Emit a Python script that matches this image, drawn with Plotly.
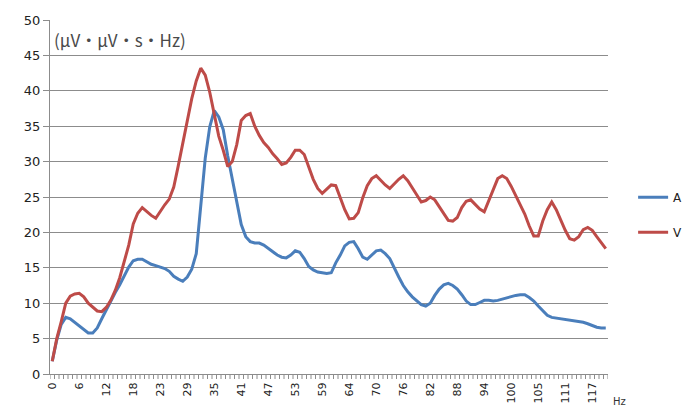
import plotly.graph_objects as go

# Spectral power per frequency bin (bin step = 1000/1024 Hz)
series_A = [1.8, 4.8, 7.0, 8.0, 7.8, 7.3, 6.8, 6.2, 5.8, 5.8,
            6.5, 7.8, 9.1, 10.4, 11.5, 12.6, 13.9, 15.1, 16.0, 16.2,
            16.2, 15.8, 15.5, 15.3, 15.1, 14.9, 14.5, 13.8, 13.4, 13.1,
            13.7, 14.8, 17.0, 23.5, 30.5, 34.9, 37.2, 36.3, 34.5, 30.8,
            27.5, 24.0, 21.1, 19.4, 18.7, 18.5, 18.5, 18.2, 17.7, 17.3,
            16.8, 16.5, 16.4, 16.8, 17.4, 17.2, 16.3, 15.2, 14.7, 14.4,
            14.3, 14.2, 14.3, 15.7, 16.8, 18.1, 18.6, 18.7, 17.7, 16.5,
            16.2, 16.8, 17.4, 17.5, 17.0, 16.3, 14.9, 13.7, 12.5, 11.6,
            10.9, 10.4, 9.8, 9.6, 10.0, 11.1, 12.0, 12.6, 12.8, 12.5,
            12.0, 11.2, 10.3, 9.8, 9.8, 10.1, 10.4, 10.4, 10.3, 10.4,
            10.6, 10.7, 10.9, 11.1, 11.2, 11.2, 10.8, 10.3, 9.6, 8.9,
            8.3, 8.0, 7.9, 7.8, 7.7, 7.6, 7.5, 7.5, 7.3, 7.1,
            6.8, 6.6, 6.5, 6.5]

series_V = [1.8, 5.0, 7.4, 10.0, 11.0, 11.3, 11.4, 10.9, 10.0, 9.4,
            8.9, 8.8, 9.4, 10.4, 11.8, 13.6, 15.8, 18.2, 21.2, 22.7,
            23.5, 22.9, 22.4, 22.0, 23.0, 23.9, 24.7, 26.4, 29.4, 32.7,
            36.0, 38.9, 41.4, 43.2, 42.2, 39.8, 36.7, 33.6, 31.6, 29.3,
            30.0, 32.4, 35.8, 36.5, 36.8, 35.0, 33.7, 32.7, 32.0, 31.1,
            30.4, 29.6, 29.8, 30.6, 31.6, 31.6, 31.0, 29.1, 27.5, 26.2,
            25.5, 26.1, 26.7, 26.6, 25.0, 23.2, 21.9, 22.0, 22.8, 24.9,
            26.6, 27.6, 28.0, 27.3, 26.7, 26.2, 26.9, 27.5, 28.0, 27.3,
            26.3, 25.2, 24.3, 24.5, 25.0, 24.6, 23.6, 22.6, 21.7, 21.6,
            22.1, 23.5, 24.4, 24.6, 23.9, 23.3, 22.9, 24.5, 26.0, 27.6,
            28.0, 27.6, 26.5, 25.2, 23.8, 22.6, 20.9, 19.5, 19.5, 21.6,
            23.2, 24.3, 23.2, 21.7, 20.3, 19.1, 18.9, 19.4, 20.4, 20.7,
            20.3, 19.4, 18.6, 17.7]

# category positions (one per frequency bin)
bins = list(range(len(series_A)))
tick_bins = [0, 6, 12, 18, 24, 30, 36, 42, 48, 54, 60, 66, 72, 78, 84,
             90, 96, 102, 108, 114, 120]
tick_labels = ["0", "6", "12", "18", "23", "29", "35", "41", "47", "53", "59",
               "64", "70", "76", "82", "88", "94", "100", "105", "111", "117"]

FONT = "DejaVu Sans"
GRID = "#8c8c8c"
xrange = [-0.5, len(bins) - 0.5]
PLOT_H = 412 - 20 - 38          # plot-area height in px
TICK_LEN = 5 / PLOT_H           # tick length in paper units

fig = go.Figure()
fig.add_trace(go.Scatter(x=bins, y=series_A, mode="lines", name="A",
                         legendgroup="A",
                         line=dict(color="#4A7EBB", width=3)))
fig.add_trace(go.Scatter(x=bins, y=series_V, mode="lines", name="V",
                         legendgroup="V",
                         line=dict(color="#BE4B48", width=3)))

# category tick marks at the boundaries between bins (Excel style)
tick_shapes = [
    dict(type="line", xref="x", yref="paper",
         x0=b - 0.5, x1=b - 0.5, y0=0, y1=-TICK_LEN,
         line=dict(color=GRID, width=1), layer="above")
    for b in range(len(bins) + 1)
]

fig.update_layout(
    width=693, height=412,
    margin=dict(l=50, r=85, t=20, b=38, autoexpand=False),
    paper_bgcolor="white", plot_bgcolor="white",
    font=dict(family=FONT, size=12, color="#222222"),
    showlegend=True,
    legend=dict(x=1.045, y=0.45, xanchor="left", yanchor="middle",
                font=dict(family=FONT, size=12, color="#222222"),
                tracegroupgap=16, itemwidth=30,
                bgcolor="rgba(0,0,0,0)"),
    shapes=tick_shapes,
    annotations=[
        dict(text="(μV·μV·s·Hz)", xref="paper", yref="paper",
             x=0.003, y=0.945, xanchor="left", yanchor="middle",
             showarrow=False,
             font=dict(family="Noto Sans CJK SC", size=17, color="#4a4a4a")),
        dict(text="Hz", xref="paper", yref="paper",
             x=1.006, y=-0.078, xanchor="left", yanchor="middle",
             showarrow=False,
             font=dict(family=FONT, size=10, color="#333333")),
    ],
    xaxis=dict(
        range=xrange, automargin=False,
        tickmode="array", tickvals=tick_bins, ticktext=tick_labels,
        tickangle=-90, ticks="", ticklabelstandoff=3,
        tickfont=dict(family=FONT, size=11, color="#222222"),
        showgrid=False, zeroline=False,
        showline=True, linecolor=GRID, linewidth=1,
    ),
    yaxis=dict(
        range=[0, 50], dtick=5, tick0=0, automargin=False,
        ticks="outside", ticklen=6, tickcolor=GRID,
        tickfont=dict(family=FONT, size=13, color="#222222"),
        showgrid=True, gridcolor=GRID, gridwidth=1,
        zeroline=False,
        showline=True, linecolor=GRID, linewidth=1,
    ),
)

fig.write_html("out.html")
